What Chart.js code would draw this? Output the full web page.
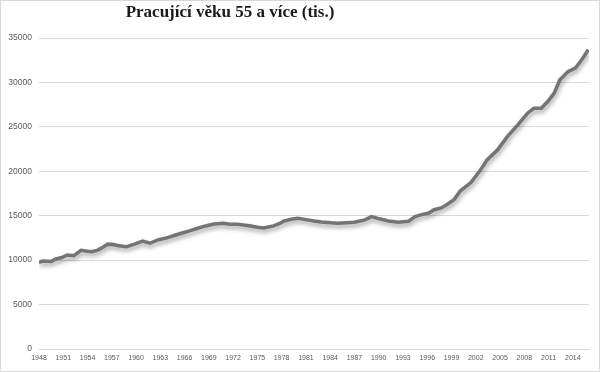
<!DOCTYPE html>
<html>
<head>
<meta charset="utf-8">
<script src="https://cdn.jsdelivr.net/npm/chart.js@4/dist/chart.umd.min.js"></script>
<style>
  html, body { margin: 0; padding: 0; background: #fff; }
  #wrap { width: 598px; height: 370px; border: 1px solid #d9d9d9; }
</style>
</head>
<body>
<div id="wrap"><canvas id="myChart" width="598" height="370"></canvas></div>
<script>
// Chart title
var chartTitle = 'Pracující věku 55 a více (tis.)';

// Time points (years) and employed people aged 55+ (thousands)
var years = [
  1948.0, 1948.5, 1949.5, 1950.0, 1950.8, 1951.5, 1952.3, 1953.2, 1954.0, 1954.5,
  1955.2, 1955.7, 1956.5, 1957.2, 1957.7, 1958.8, 1959.8, 1960.8, 1961.7, 1962.7,
  1963.9, 1964.8, 1965.6, 1966.6, 1967.6, 1968.6, 1969.6, 1970.8, 1971.6, 1972.5,
  1973.3, 1974.2, 1975.0, 1975.8, 1977.0, 1977.7, 1978.3, 1979.2, 1980.0, 1981.2,
  1982.0, 1982.9, 1984.1, 1984.9, 1986.0, 1987.0, 1988.3, 1989.1, 1990.1, 1991.2,
  1992.4, 1993.7, 1994.5, 1995.2, 1996.2, 1996.8, 1997.8, 1998.5, 1999.3, 2000.1,
  2001.4, 2002.6, 2003.4, 2004.7, 2005.9, 2007.2, 2008.4, 2009.2, 2010.1, 2010.9,
  2011.7, 2012.4, 2013.4, 2014.3, 2015.1, 2015.9
];
var workers = [
   9750,  9900,  9850, 10100, 10300, 10580, 10500, 11100, 11000, 10950,
  11100, 11350, 11800, 11750, 11650, 11500, 11800, 12150, 11900, 12270,
  12530, 12800, 13030, 13300, 13590, 13850, 14070, 14150, 14050, 14040,
  13950, 13850, 13700, 13620, 13850, 14100, 14410, 14600, 14720, 14530,
  14400, 14300, 14200, 14150, 14200, 14260, 14530, 14900, 14650, 14410,
  14260, 14380, 14900, 15090, 15300, 15650, 15900, 16300, 16800, 17800,
  18730, 20160, 21280, 22410, 23900, 25220, 26540, 27100, 27100, 27850,
  28790, 30290, 31220, 31600, 32540, 33670
];

// Axis ticks
var xTickYears = [1948, 1951, 1954, 1957, 1960, 1963, 1966, 1969, 1972, 1975, 1978, 1981,
                  1984, 1987, 1990, 1993, 1996, 1999, 2002, 2005, 2008, 2011, 2014];
var yTicks = [0, 5000, 10000, 15000, 20000, 25000, 30000, 35000];
var xMin = 1948;
var xMax = 2016;

var points = years.map(function (y, i) { return { x: y, y: workers[i] }; });

// Excel-like soft shadow under the line
var shadowPlugin = {
  id: 'lineShadow',
  beforeDatasetDraw: function (chart) {
    var ctx = chart.ctx;
    ctx.save();
    ctx.shadowColor = 'rgba(0,0,0,0.35)';
    ctx.shadowBlur = 4;
    ctx.shadowOffsetX = 1;
    ctx.shadowOffsetY = 3;
  },
  afterDatasetDraw: function (chart) {
    chart.ctx.restore();
  }
};

// Title drawn left of centre, as in the original
var titlePlugin = {
  id: 'leftTitle',
  afterDraw: function (chart) {
    var ctx = chart.ctx;
    ctx.save();
    ctx.font = 'bold 17px "Liberation Serif"';
    ctx.fillStyle = '#1a1a1a';
    ctx.textAlign = 'center';
    ctx.textBaseline = 'alphabetic';
    ctx.fillText(chartTitle, 229, 16);
    ctx.restore();
  }
};

var ctx = document.getElementById('myChart').getContext('2d');
new Chart(ctx, {
  type: 'line',
  data: {
    datasets: [{
      label: chartTitle,
      data: points,
      borderColor: '#747474',
      borderWidth: 3.5,
      pointRadius: 0,
      tension: 0,
      fill: false
    }]
  },
  options: {
    responsive: false,
    animation: false,
    layout: { padding: { top: 37, right: 10, left: 0, bottom: 0 } },
    plugins: {
      legend: { display: false },
      tooltip: { enabled: false },
      title: { display: false }
    },
    scales: {
      x: {
        type: 'linear',
        min: xMin,
        max: xMax,
        afterFit: function (s) { s.height = 22; },
        afterBuildTicks: function (s) {
          s.ticks = xTickYears.map(function (v) { return { value: v }; });
        },
        grid: { display: false, drawTicks: false },
        border: { color: '#d9d9d9' },
        ticks: {
          autoSkip: false,
          maxRotation: 0,
          padding: 5,
          color: '#595959',
          font: { family: '"Liberation Sans"', size: 7 },
          callback: function (v) { return String(v); }
        }
      },
      y: {
        min: 0,
        max: 35000,
        afterFit: function (s) { s.width = 38; },
        afterBuildTicks: function (s) {
          s.ticks = yTicks.map(function (v) { return { value: v }; });
        },
        grid: { color: '#d9d9d9', drawTicks: false },
        border: { display: false },
        ticks: {
          padding: 7,
          color: '#595959',
          font: { family: '"Liberation Sans"', size: 8.5 },
          callback: function (v) { return String(v); }
        }
      }
    }
  },
  plugins: [shadowPlugin, titlePlugin]
});
</script>
</body>
</html>
